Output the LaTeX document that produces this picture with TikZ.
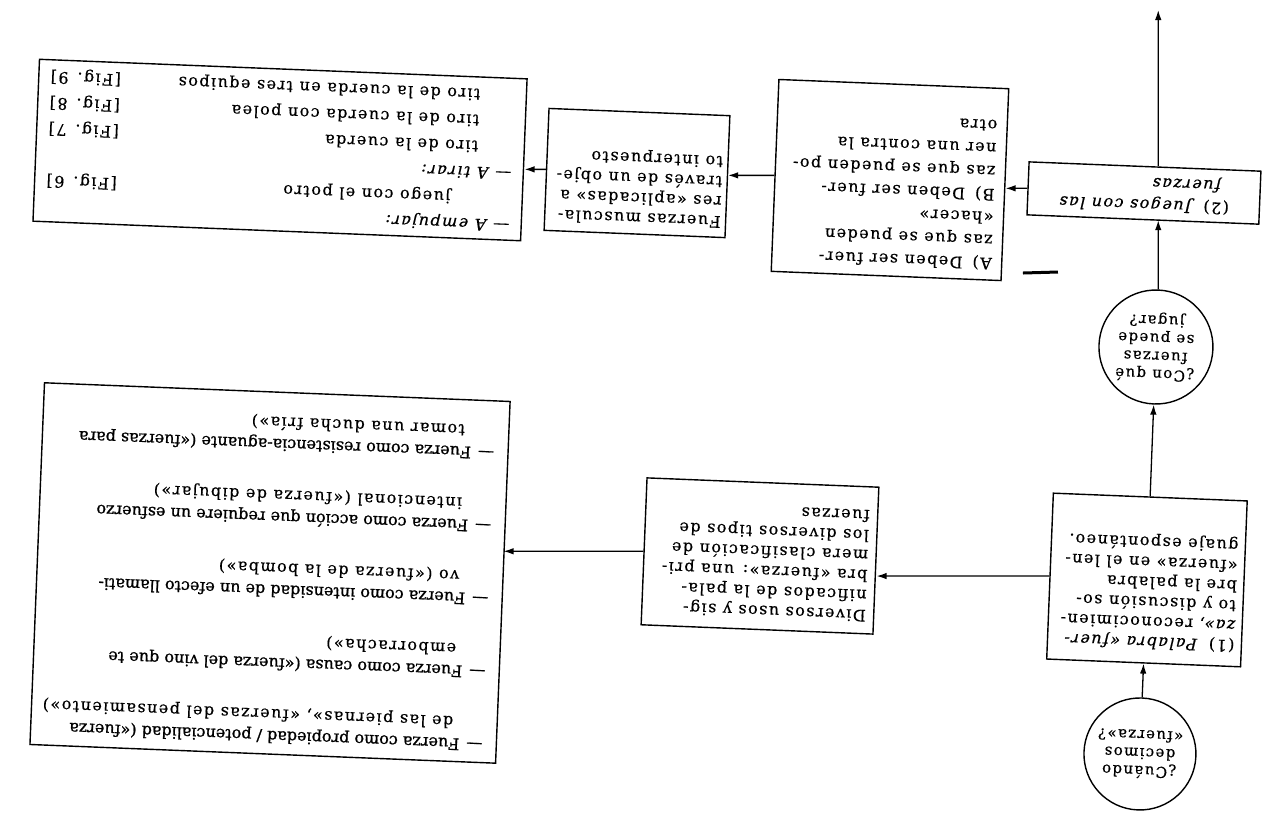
\documentclass[tikz,border=0pt]{standalone}
\usepackage{fontspec}
\setmainfont{DejaVu Serif}[LetterSpace=9, FakeBold=0.5]
\newfontfamily\tight{DejaVu Serif}[FakeBold=1.1]
\usetikzlibrary{arrows.meta}

% a framed block of text: width, height, top padding, left margin, line pitch, text
\newcommand\panel[6]{\parbox[c][#2][t]{#1}{\vspace*{#3}\leftskip=#4\relax
  \rightskip=-40pt plus 1fil\relax\parindent=0pt\relax\parfillskip=0pt plus 1fil\relax
  \fontsize{16}{#5}\selectfont #6}}
% one entry of the list of meanings: dash line, then an indented continuation
\newcommand\fitem[2]{{\tight —\hspace{7pt}#1}\\\hspace*{30pt}#2}
% a game line with its figure reference pushed to the right margin
\newcommand\figline[3]{\makebox[464pt][l]{\hspace*{#1}#2\hfill#3}}

\begin{document}
\begin{tikzpicture}[x=1pt,y=-1pt,
  panelbox/.style={draw, line width=1.4pt, rectangle, inner sep=0pt},
  box/.style={draw, line width=1.4pt, rectangle, align=left, inner sep=0pt},
  bubble/.style={draw, line width=1.4pt, circle, align=center, inner sep=0pt,
    font=\fontsize{15}{18}\selectfont},
  flow/.style={line width=1.3pt, -{Latex[length=10pt,width=6.5pt]}},
  smudge/.style={line width=3pt}
]
\path[fill=white, use as bounding box] (0,0) rectangle (1262,817);

% the whole page is printed turned over and slightly skewed
\begin{scope}[transform canvas={rotate around={177.7:(631,408.5)}}]
\begin{scope}[rotate around={-177.7:(631,408.5)}]

  % main column
  \node[bubble, minimum size=112pt] (circA) at (1140,754) {¿Cuándo\\decimos\\«fuerza»?};
  \node[panelbox] (box1) at (1147,580)
    {\panel{194pt}{166pt}{14pt}{7pt}{20pt}{%
     (1)\hspace{12pt}\textit{Palabra «fuer-}\\
     \textit{za»}, reconocimien-\\
     to y discusión so-\\
     bre la palabra\\
     «fuerza» en el len-\\
     guaje espontáneo.}};
  \node[bubble, minimum size=114pt] (circB) at (1156,347) {¿Con qué\\fuerzas\\se puede\\jugar?};
  \node[box, minimum width=232pt, minimum height=53pt, font=\fontsize{16}{22}\selectfont]
    (box2) at (1144,193)
    {(2)\hspace{12pt}\textit{Juegos con las}\\\hspace*{9pt}\textit{fuerzas}};
  \coordinate (out0) at (1171,10);

  % first branch
  \node[panelbox] (div) at (760,556)
    {\panel{232pt}{147pt}{12pt}{8pt}{20pt}{%
     Diversos usos y sig-\\
     nificados de la pala-\\
     bra «fuerza»: una pri-\\
     mera clasificación de\\
     los diversos tipos de\\
     fuerzas}};
  \node[panelbox] (lowbox) at (270,573)
    {\panel{466pt}{362pt}{11pt}{14pt}{22pt}{%
     \fitem{Fuerza como propiedad / potencialidad («fuerza}{de las piernas», «fuerzas del pensamiento»)}\\[29pt]
     \fitem{Fuerza como causa («fuerza del vino que te}{emborracha»)}\\[29pt]
     \fitem{Fuerza como intensidad de un efecto llamati-}{vo («fuerza de la bomba»)}\\[29pt]
     \fitem{Fuerza como acción que requiere un esfuerzo}{intencional («fuerza de dibujar»)}\\[29pt]
     \fitem{Fuerza como resistencia-aguante («fuerzas para}{tomar una ducha fría»)}}};

  % second branch
  \node[panelbox] (ab) at (890,180)
    {\panel{230pt}{192pt}{10pt}{10pt}{23pt}{%
     A)\hspace{10pt}Deben ser fuer-\\
     zas que se pueden\\
     «hacer»\\
     B)\hspace{10pt}Deben ser fuer-\\
     zas que se pueden po-\\
     ner una contra la\\
     otra}};
  \node[panelbox] (fm) at (637,173)
    {\panel{181pt}{122pt}{9pt}{5pt}{20pt}{%
     Fuerzas muscula-\\
     res «aplicadas» a\\
     través de un obje-\\
     to interpuesto}};
  \node[box, minimum width=488pt, minimum height=162pt, font=\fontsize{16}{26}\selectfont]
    (upbox) at (280,150)
    {—\hspace{7pt}\textit{A empujar:}\\
     \figline{60pt}{juego con el potro}{[Fig. 6]}\\
     —\hspace{7pt}\textit{A tirar:}\\
     \figline{34pt}{tiro de la cuerda}{[Fig. 7]}\\
     \figline{34pt}{tiro de la cuerda con polea}{[Fig. 8]}\\
     \figline{34pt}{tiro de la cuerda en tres equipos}{[Fig. 9]}};

  % connectors
  \draw[flow] (circA) -- (box1);
  \draw[flow] (box1) -- (circB);
  \draw[flow] (circB.south) -- (circB.south |- box2.north);
  \draw[flow] (circB.south |- box2.south) -- (circB.south |- out0);
  \draw[flow] (box1.east) -- (box1.east -| div.west);
  \draw[flow] (div.east) -- (div.east -| lowbox.west);
  \draw[flow] (box2.east) -- (box2.east -| ab.west);
  \draw[flow] (ab.east) -- (ab.east -| fm.west);
  \draw[flow] (fm.east) -- (fm.east -| upbox.west);

  % stray ink mark
  \draw[smudge] (1023,273) -- (1058,272);
\end{scope}
\end{scope}
\end{tikzpicture}
\end{document}
